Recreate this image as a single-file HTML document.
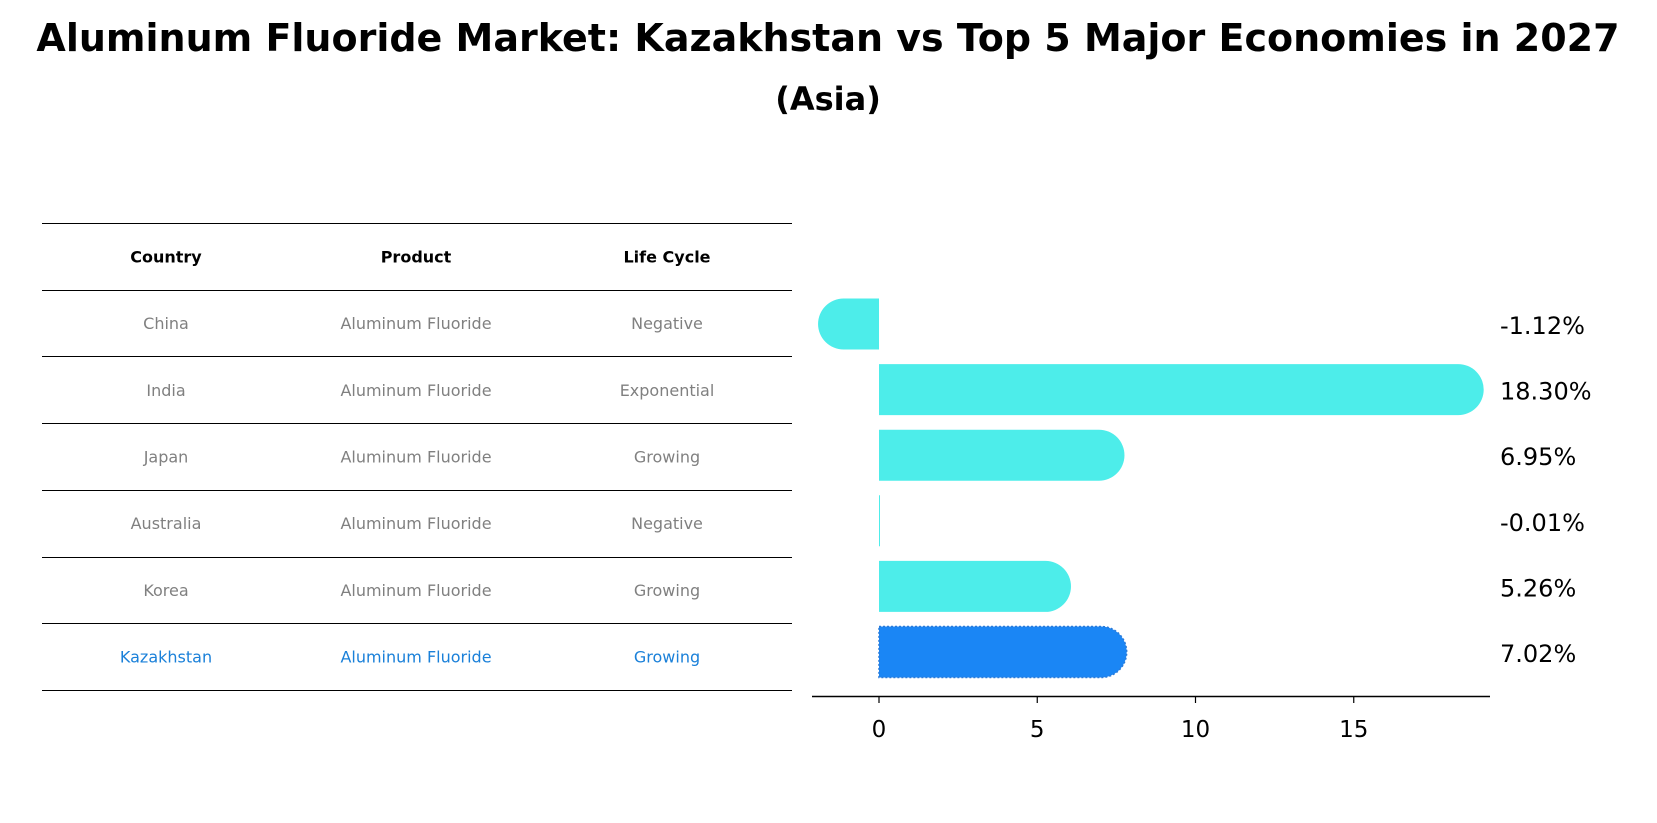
<!DOCTYPE html>
<html><head><meta charset="utf-8"><style>
body{margin:0;background:#fff;font-family:"Liberation Sans","DejaVu Sans",sans-serif;}
#wrap{position:relative;width:1657px;height:823px;overflow:hidden;}
</style></head><body>
<div id="wrap">
<svg id="svg" width="1657" height="823" xmlns="http://www.w3.org/2000/svg">
<text x="828" y="51" text-anchor="middle" font-size="38" font-weight="bold" font-family="DejaVu Sans, sans-serif">Aluminum Fluoride Market: Kazakhstan vs Top 5 Major Economies in 2027</text>
<text x="828" y="110" text-anchor="middle" font-size="32" font-weight="bold" font-family="DejaVu Sans, sans-serif">(Asia)</text>
<g id="table"></g>
<g id="bars"></g>
</svg>
</div>
<script>
const countries=["China","India","Japan","Australia","Korea","Kazakhstan"];
const products=["Aluminum Fluoride","Aluminum Fluoride","Aluminum Fluoride","Aluminum Fluoride","Aluminum Fluoride","Aluminum Fluoride"];
const lifeCycles=["Negative","Exponential","Growing","Negative","Growing","Growing"];
const growth=[-1.12,18.30,6.95,-0.01,5.26,7.02];
const xTicks=[0,5,10,15];

const NS="http://www.w3.org/2000/svg";
function mk(tag,attrs,parent){const e=document.createElementNS(NS,tag);for(const k in attrs)e.setAttribute(k,attrs[k]);parent.appendChild(e);return e;}
const tbl=document.getElementById('table');
const bars=document.getElementById('bars');
const FONT="DejaVu Sans, sans-serif";
const lineTop=223, rowH=66.7;
const colX=[166,416,667];
for(let i=0;i<=7;i++){
  const y=Math.round(lineTop+i*rowH)+0.5;
  const l=mk('line',{x1:42,x2:792,y1:y,y2:y,stroke:'#000','stroke-width':1},tbl);
  
  
}
["Country","Product","Life Cycle"].forEach((h,i)=>{
  const t=mk('text',{x:colX[i],y:lineTop+rowH/2+6,'text-anchor':'middle','font-size':16,'font-weight':'bold','font-family':FONT},tbl);
  t.textContent=h;
  
  
});
countries.forEach((c,i)=>{
  const col=i===countries.length-1?'#1a80d9':'#808080';
  const cy=lineTop+rowH*(i+1.5);
  [c,products[i],lifeCycles[i]].forEach((v,j)=>{
    const t=mk('text',{x:colX[j],y:cy+6,'text-anchor':'middle','font-size':16,fill:col,'font-family':FONT},tbl);
    t.textContent=v;
    
    
  });
});
// bar chart
const x0=879, ppu=31.65;
function xs(v){return x0+v*ppu;}
const bh=51, r=25.5;
growth.forEach((v,i)=>{
  const cy=324+i*65.6, top=cy-bh/2;
  const fill=i===growth.length-1?'#1a86f5':'#4dedea';
  const xe=xs(v);
  let d;
  if(Math.abs(xe-x0)<2){
    d=`M${x0} ${top} h1 v${bh} h-1 Z`;
  } else if(v>=0){
    d=`M${x0} ${top} H${xe} A${r} ${r} 0 0 1 ${xe} ${top+bh} H${x0} Z`;
  } else {
    d=`M${x0} ${top} H${xe} A${r} ${r} 0 0 0 ${xe} ${top+bh} H${x0} Z`;
  }
  const p=mk('path',{d:d,fill:fill},bars);
  if(i===growth.length-1){p.setAttribute('stroke','#2a7ad8');p.setAttribute('stroke-dasharray','2 2');p.setAttribute('stroke-width','1.5');}
  
  
  const t=mk('text',{x:1500,y:cy+10,'font-size':24,'font-family':FONT},bars);
  t.textContent=v.toFixed(2)+'%';
  
  
});
const ax=mk('line',{x1:812,x2:1490,y1:696.5,y2:696.5,stroke:'#000','stroke-width':1.5},bars);


xTicks.forEach(v=>{
  const tk=mk('line',{x1:xs(v),x2:xs(v),y1:697,y2:703,stroke:'#000','stroke-width':1.2},bars);
  
  
  const t=mk('text',{x:xs(v),y:737,'text-anchor':'middle','font-size':23,'font-family':FONT},bars);
  t.textContent=v;
  
  
});
</script>
</body></html>
